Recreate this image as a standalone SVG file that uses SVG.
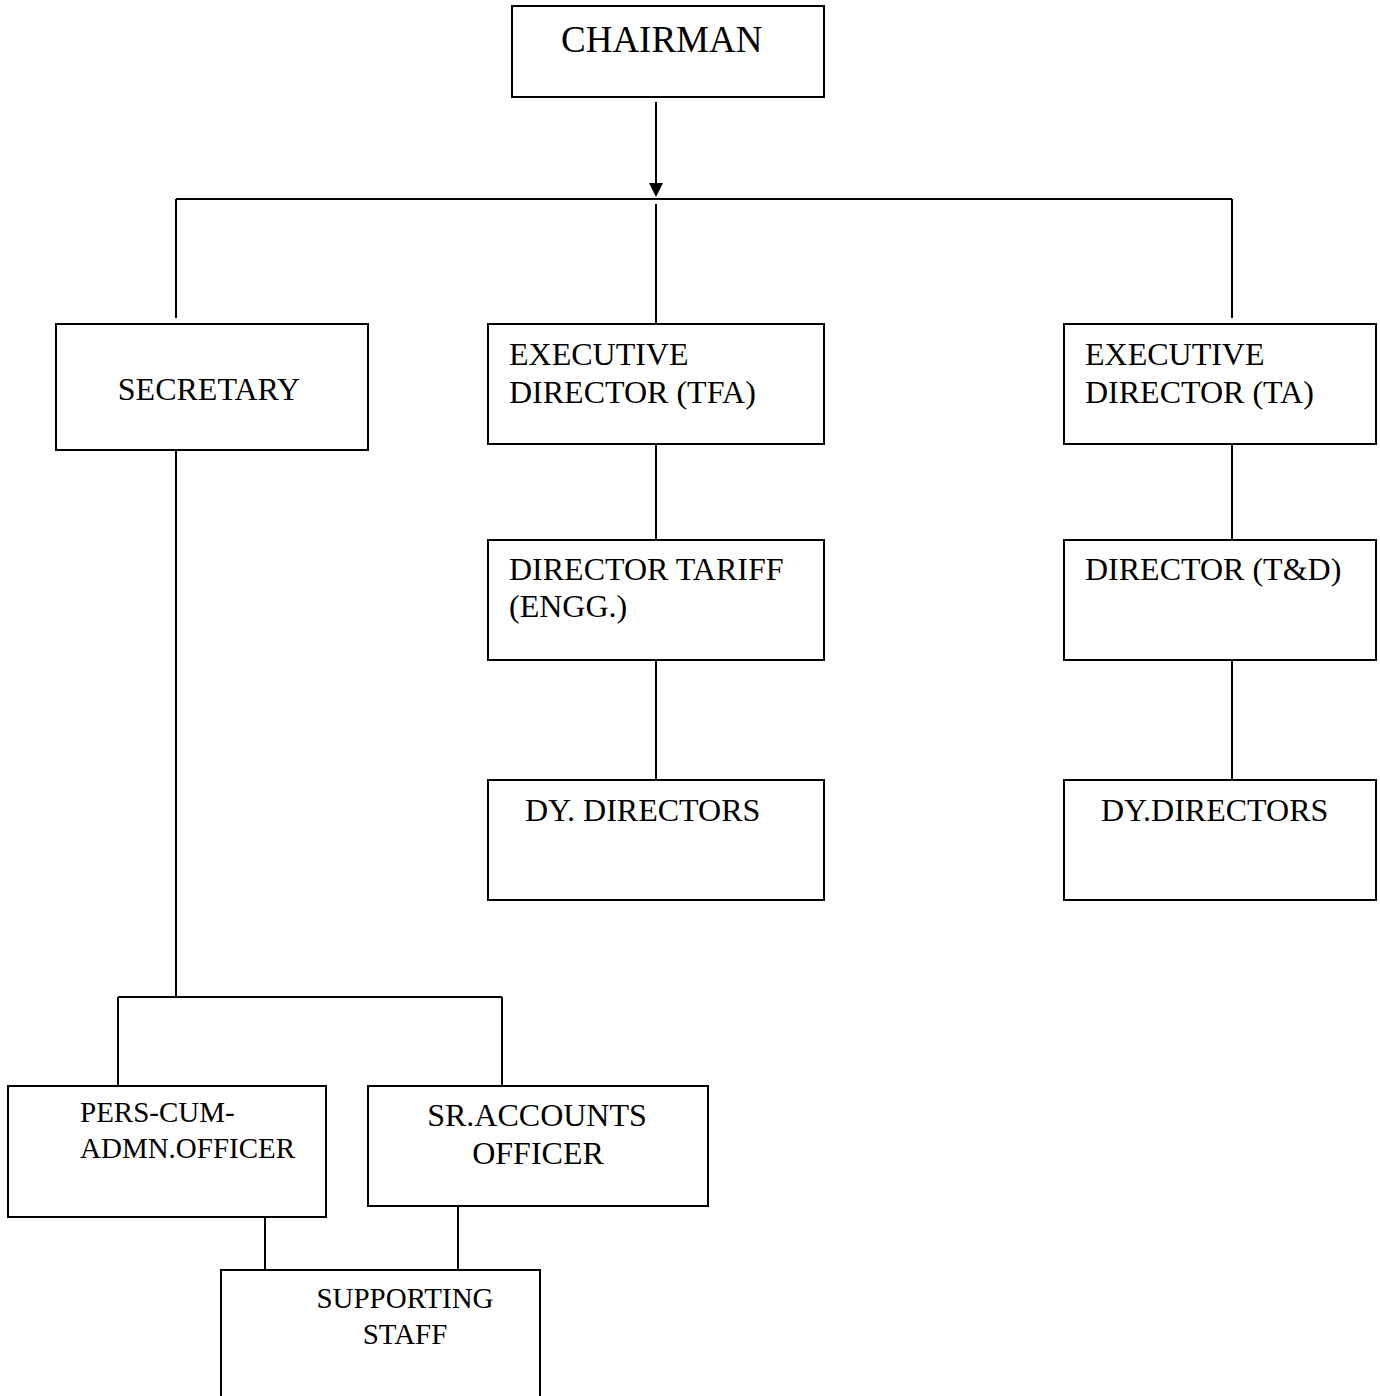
<svg xmlns="http://www.w3.org/2000/svg" width="1380" height="1396" viewBox="0 0 1380 1396">
<defs>
<style>
.box{fill:#fff;stroke:#000;stroke-width:2}
.ln{stroke:#000;stroke-width:2;fill:none}
text{font-family:"Liberation Serif","Times New Roman",serif;fill:#000}
.t32{font-size:32px}
.t29{font-size:29px}
</style>
<marker id="ah" markerWidth="14" markerHeight="14" refX="7" refY="14" orient="auto" markerUnits="userSpaceOnUse" viewBox="0 0 14 14">
<path d="M0,0 L14,0 L7,14 Z" fill="#000" transform="rotate(-90 7 7)"/>
</marker>
</defs>
<rect width="1380" height="1396" fill="#fff"/>
<g id="connectors">
<line class="ln" x1="656" y1="102" x2="656" y2="184"/>
<path d="M649,183 L663,183 L656,197 Z" fill="#000"/>
<line class="ln" x1="176" y1="199" x2="1232" y2="199"/>
<line class="ln" x1="176" y1="199" x2="176" y2="318"/>
<line class="ln" x1="656" y1="204" x2="656" y2="324"/>
<line class="ln" x1="1232" y1="199" x2="1232" y2="318"/>
<line class="ln" x1="176" y1="444" x2="176" y2="997"/>
<line class="ln" x1="118" y1="997" x2="502" y2="997"/>
<line class="ln" x1="118" y1="997" x2="118" y2="1086"/>
<line class="ln" x1="502" y1="997" x2="502" y2="1086"/>
<line class="ln" x1="656" y1="444" x2="656" y2="540"/>
<line class="ln" x1="656" y1="660" x2="656" y2="780"/>
<line class="ln" x1="1232" y1="444" x2="1232" y2="540"/>
<line class="ln" x1="1232" y1="660" x2="1232" y2="780"/>
<line class="ln" x1="265" y1="1217" x2="265" y2="1270"/>
<line class="ln" x1="458" y1="1206" x2="458" y2="1270"/>
</g>
<g id="chairman">
<rect class="box" x="512" y="6" width="312" height="91"/>
<text x="561" y="52" style="font-size:37px">CHAIRMAN</text>
</g>
<g id="secretary">
<rect class="box" x="56" y="324" width="312" height="126"/>
<text class="t32" x="209" y="400" text-anchor="middle">SECRETARY</text>
</g>
<g id="ed-tfa">
<rect class="box" x="488" y="324" width="336" height="120"/>
<text class="t32" x="509" y="365">EXECUTIVE</text>
<text class="t32" x="509" y="403">DIRECTOR (TFA)</text>
</g>
<g id="ed-ta">
<rect class="box" x="1064" y="324" width="312" height="120"/>
<text class="t32" x="1085" y="365">EXECUTIVE</text>
<text class="t32" x="1085" y="403">DIRECTOR (TA)</text>
</g>
<g id="dir-tariff">
<rect class="box" x="488" y="540" width="336" height="120"/>
<text class="t32" x="509" y="580">DIRECTOR TARIFF</text>
<text class="t32" x="509" y="617">(ENGG.)</text>
</g>
<g id="dir-td">
<rect class="box" x="1064" y="540" width="312" height="120"/>
<text class="t32" x="1085" y="580">DIRECTOR (T&amp;D)</text>
</g>
<g id="dy-directors-1">
<rect class="box" x="488" y="780" width="336" height="120"/>
<text class="t32" x="525" y="821">DY. DIRECTORS</text>
</g>
<g id="dy-directors-2">
<rect class="box" x="1064" y="780" width="312" height="120"/>
<text class="t32" x="1101" y="821">DY.DIRECTORS</text>
</g>
<g id="pers-officer">
<rect class="box" x="8" y="1086" width="318" height="131"/>
<text class="t29" x="80" y="1122">PERS-CUM-</text>
<text class="t29" x="80" y="1158">ADMN.OFFICER</text>
</g>
<g id="accounts-officer">
<rect class="box" x="368" y="1086" width="340" height="120"/>
<text class="t32" x="537" y="1126" text-anchor="middle">SR.ACCOUNTS</text>
<text class="t32" x="538" y="1164" text-anchor="middle">OFFICER</text>
</g>
<g id="supporting-staff">
<rect class="box" x="221" y="1270" width="319" height="140"/>
<text class="t29" x="405" y="1308" text-anchor="middle">SUPPORTING</text>
<text class="t29" x="405" y="1344" text-anchor="middle">STAFF</text>
</g>
</svg>
